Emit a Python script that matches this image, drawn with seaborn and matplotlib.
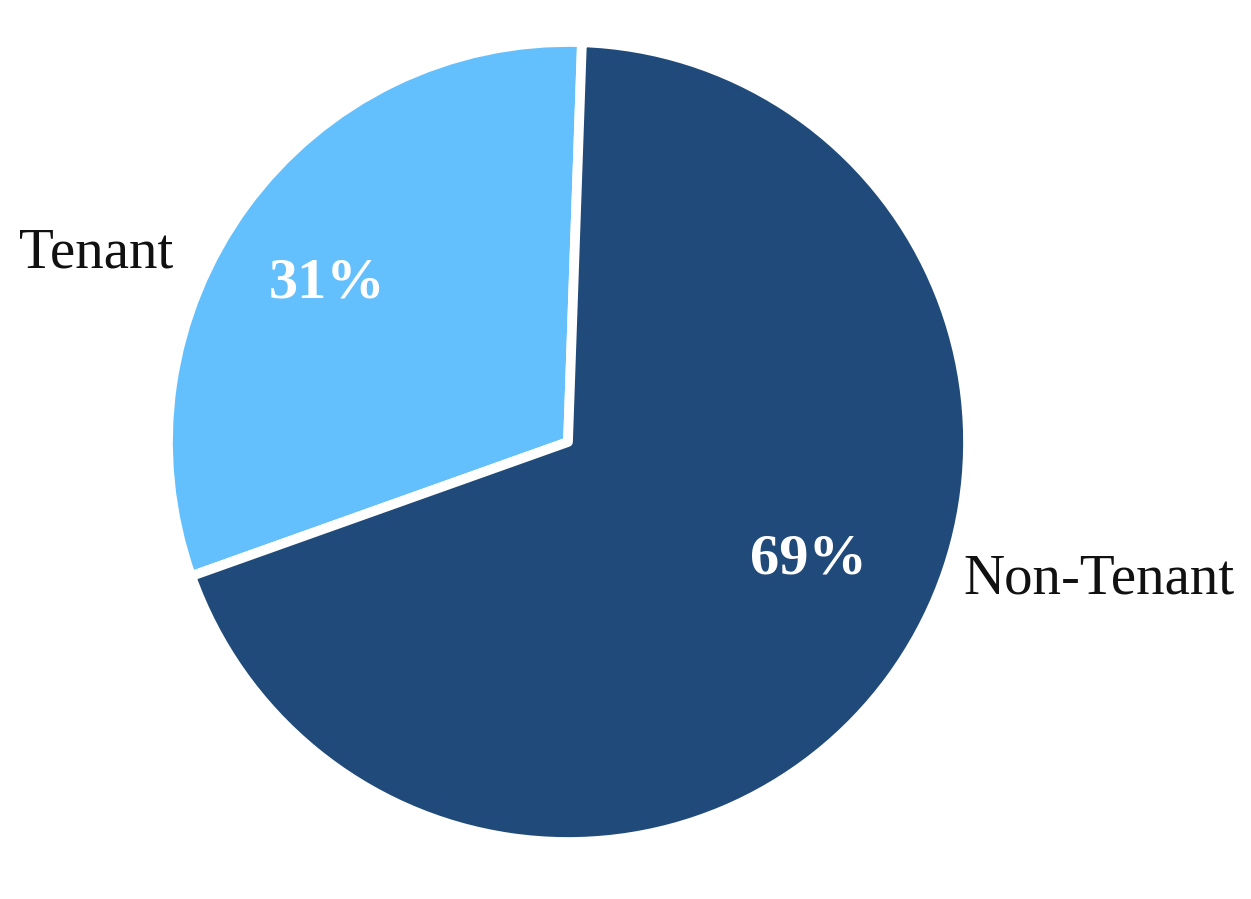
import matplotlib
matplotlib.use("Agg")
import matplotlib.pyplot as plt
import seaborn as sns

categories = ["Tenant", "Non-Tenant"]
values = [31, 69]
pct_labels = ["31%", "69%"]
colors = ["#63c0fc", "#204a7a"]

sns.set_theme(style="white")
plt.rcParams['font.family'] = ['Liberation Serif', 'DejaVu Serif']

fig = plt.figure(figsize=(12.51, 8.99), dpi=100)
ax = fig.add_axes([(568 - 400) / 1251, (457 - 400) / 899, 800 / 1251, 800 / 899])

wedges, texts, autotexts = ax.pie(
    values, labels=categories, colors=colors, startangle=88, counterclock=True,
    autopct=lambda p: f"{p:.0f}%",
    wedgeprops=dict(edgecolor="white", linewidth=7, joinstyle="round"),
    textprops=dict(fontsize=41, color="#111111"),
)
ax.set_xlim(-1, 1)
ax.set_ylim(-1, 1)
ax.set_aspect("equal")

texts[0].set_position((-1.18, 0.47))
texts[1].set_position((1.327, -0.345))
for t in texts:
    t.set_ha("center")
    t.set_va("center")
autotexts[0].set_position((-0.6025, 0.395))
autotexts[1].set_position((0.6, -0.2925))
for t, s in zip(autotexts, pct_labels):
    t.set_text(s)
    t.set_color("white")
    t.set_fontweight("bold")
    t.set_fontsize(42)
    t.set_ha("center")
    t.set_va("center")

fig.savefig("out.png", dpi=100, facecolor="white")
